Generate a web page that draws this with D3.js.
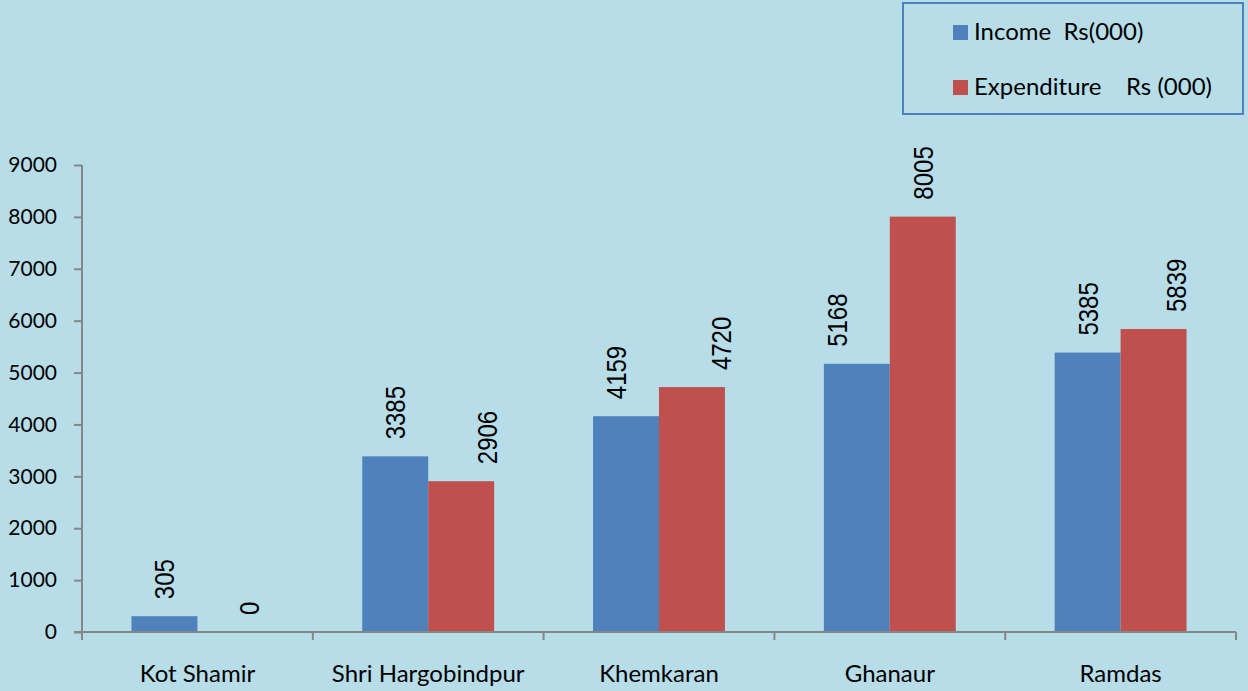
<!DOCTYPE html>
<html>
<head>
<meta charset="utf-8">
<script src="https://cdn.jsdelivr.net/npm/d3@7"></script>
<style>
  body { margin: 0; background: #b7dde8; }
  svg { display: block; }
</style>
</head>
<body>
<div id="chart"></div>
<script>
// Chart data
const categories = ['Kot Shamir', 'Shri Hargobindpur', 'Khemkaran', 'Ghanaur', 'Ramdas'];
const seriesNames = ['Income  Rs(000)', 'Expenditure    Rs (000)'];
const income = [305, 3385, 4159, 5168, 5385];
const expenditure = [0, 2906, 4720, 8005, 5839];
const yTicks = [0, 1000, 2000, 3000, 4000, 5000, 6000, 7000, 8000, 9000];

// label nudges (px) - labels in the original were dragged a bit by hand
const incomeNudge = [0, 0, -10, -20, 0];
const expenditureNudge = [19, 26, 29, 0, 22];

const colors = ['#4f81bd', '#c0504d'];
const width = 1248, height = 691;
const margin = { left: 82, right: 12, top: 165, bottom: 59 };
const labelFont = 'Lato, "Open Sans", sans-serif';

const svg = d3.select('#chart').append('svg')
    .attr('width', width)
    .attr('height', height);

svg.append('rect').attr('width', width).attr('height', height).attr('fill', '#b7dde8');

const x = d3.scaleBand()
    .domain(categories)
    .range([margin.left, width - margin.right])
    .paddingInner(0).paddingOuter(0);

const x1 = d3.scaleBand()
    .domain([0, 1])
    .range([0, x.bandwidth()])
    .paddingOuter(0.75).paddingInner(0);

const y = d3.scaleLinear()
    .domain([0, 9000])
    .range([height - margin.bottom, margin.top]);

// Y axis
const yAxis = svg.append('g')
    .attr('transform', `translate(${margin.left},0)`)
    .call(d3.axisLeft(y).tickValues(yTicks).tickSize(8).tickPadding(17).tickFormat(d3.format('d')));
yAxis.selectAll('line, path').attr('stroke', '#868686').attr('stroke-width', 2);
yAxis.select('.domain').attr('d', `M0,${y(9000)}V${y(0)}`);
yAxis.selectAll('text')
    .attr('font-family', labelFont)
    .attr('font-size', 21).attr('fill', '#000');

// Bars
const rows = categories.map((c, i) => ({
    cat: c,
    vals: [
        { v: income[i], k: 0, nudge: incomeNudge[i] },
        { v: expenditure[i], k: 1, nudge: expenditureNudge[i] }
    ]
}));
const groups = svg.append('g').selectAll('g')
    .data(rows).join('g')
    .attr('transform', d => `translate(${x(d.cat)},0)`);

groups.selectAll('rect')
    .data(d => d.vals)
    .join('rect')
    .attr('x', d => x1(d.k))
    .attr('width', x1.bandwidth())
    .attr('y', d => y(d.v))
    .attr('height', d => y(0) - y(d.v))
    .attr('fill', d => colors[d.k]);

// Value labels, rotated
groups.selectAll('text')
    .data(d => d.vals)
    .join('text')
    .attr('transform', d => `translate(${x1(d.k) + x1.bandwidth() / 2 + 10 + d.nudge},${y(d.v) - 17}) rotate(-90) scale(1,1.17)`)
    .attr('font-family', '"Liberation Sans", Arial, sans-serif')
    .attr('font-size', 24)
    .attr('fill', '#000')
    .text(d => d.v);

// X axis
const xAxis = svg.append('g')
    .attr('transform', `translate(0,${y(0)})`);
xAxis.append('path')
    .attr('d', `M${margin.left - 8},0H${width - margin.right}`)
    .attr('stroke', '#868686').attr('stroke-width', 2).attr('fill', 'none');
const edges = categories.map(c => x(c)).concat([x(categories[categories.length - 1]) + x.bandwidth()]);
xAxis.selectAll('line.tk').data(edges).join('line')
    .attr('class', 'tk')
    .attr('x1', d => d).attr('x2', d => d)
    .attr('y1', 0).attr('y2', 8)
    .attr('stroke', '#868686').attr('stroke-width', 2);
xAxis.selectAll('text').data(categories).join('text')
    .attr('x', d => x(d) + x.bandwidth() / 2)
    .attr('y', 50)
    .attr('text-anchor', 'middle')
    .attr('font-family', labelFont)
    .attr('font-size', 24)
    .attr('fill', '#000')
    .text(d => d);

// Legend
const legend = svg.append('g');
legend.append('rect')
    .attr('x', 903).attr('y', 3).attr('width', 340).attr('height', 111)
    .attr('fill', 'none').attr('stroke', '#4f81bd').attr('stroke-width', 2);
const li = legend.selectAll('g').data(seriesNames).join('g')
    .attr('transform', (d, i) => `translate(953,${25 + i * 55})`);
li.append('rect').attr('width', 15).attr('height', 15).attr('fill', (d, i) => colors[i]);
li.append('text')
    .attr('x', 21).attr('y', 15)
    .attr('font-family', labelFont)
    .attr('font-size', 24)
    .attr('fill', '#000')
    .style('white-space', 'pre')
    .text(d => d);
</script>
</body>
</html>
